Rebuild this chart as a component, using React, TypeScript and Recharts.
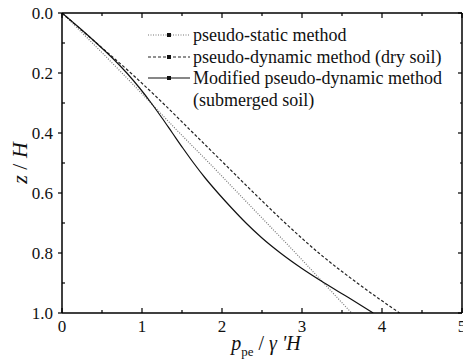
import React from 'react';
import { LineChart, Line, XAxis, YAxis, Legend, Label } from 'recharts';

// depth ratio z/H
const zCoarse = [0, 0.1, 0.2, 0.3, 0.4, 0.5, 0.6, 0.7, 0.8, 0.9, 1.0];
const zFine = [0, 0.05, 0.1, 0.15, 0.2, 0.25, 0.3, 0.35, 0.4, 0.45, 0.5, 0.55, 0.6, 0.65, 0.7, 0.75, 0.8, 0.85, 0.9, 0.95, 1.0];

// ppe / γ'H
const pseudoStatic = [0, 0.38, 0.75, 1.11, 1.47, 1.84, 2.2, 2.56, 2.92, 3.27, 3.62];
const pseudoDynamic = [0, 0.43, 0.86, 1.26, 1.64, 2.02, 2.4, 2.79, 3.21, 3.69, 4.22];
const modifiedSubmerged = [0, 0.22, 0.43, 0.63, 0.81, 0.97, 1.115, 1.25, 1.38, 1.51, 1.645, 1.79, 1.95, 2.12, 2.3, 2.5, 2.73, 2.99, 3.28, 3.59, 3.89];

const xTicks = [0, 0.5, 1, 1.5, 2, 2.5, 3, 3.5, 4, 4.5, 5];
const yTicks = [0, 0.1, 0.2, 0.3, 0.4, 0.5, 0.6, 0.7, 0.8, 0.9, 1.0];

const staticData = zCoarse.map((z, i) => ({ p: pseudoStatic[i], z }));
const dynamicData = zCoarse.map((z, i) => ({ p: pseudoDynamic[i], z }));
const modifiedData = zFine.map((z, i) => ({ p: modifiedSubmerged[i], z }));

const FONT = '"Liberation Serif", "Times New Roman", Times, serif';

const legendItems = [
  { label: 'pseudo-static method', dash: '1 1.5', color: '#777' },
  { label: 'pseudo-dynamic method (dry soil)', dash: '3 2', color: '#222' },
  { label: 'Modified pseudo-dynamic method', dash: undefined, color: '#111' },
];

const isMajor = (v: number, step: number) => Math.abs(v / step - Math.round(v / step)) < 1e-6;

const BottomTick = (props: any) => {
  const { x, y, payload } = props;
  const major = isMajor(payload.value, 1);
  return (
    <g>
      <line x1={x} x2={x} y1={y} y2={y - (major ? 5 : 3)} stroke="#000" strokeWidth={1.2} />
      {major && (
        <text x={x} y={y + 19} textAnchor="middle" fontSize={17} fontFamily={FONT} fill="#111">
          {payload.value}
        </text>
      )}
    </g>
  );
};

const TopTick = (props: any) => {
  const { x, y, payload } = props;
  const major = isMajor(payload.value, 1);
  return <line x1={x} x2={x} y1={y} y2={y + (major ? 5 : 3)} stroke="#000" strokeWidth={1.2} />;
};

const LeftTick = (props: any) => {
  const { x, y, payload } = props;
  const major = isMajor(payload.value, 0.2);
  return (
    <g>
      {major ? (
        <line x1={x} x2={x - 4} y1={y} y2={y} stroke="#000" strokeWidth={1.2} />
      ) : (
        <line x1={x} x2={x + 3} y1={y} y2={y} stroke="#000" strokeWidth={1.2} />
      )}
      {major && (
        <text x={x - 9} y={y} dy="0.35em" textAnchor="end" fontSize={17} fontFamily={FONT} fill="#111">
          {payload.value.toFixed(1)}
        </text>
      )}
    </g>
  );
};

const RightTick = (props: any) => {
  const { x, y, payload } = props;
  const major = isMajor(payload.value, 0.2);
  return <line x1={x} x2={x - (major ? 4 : 2)} y1={y} y2={y} stroke="#000" strokeWidth={1.2} />;
};

const LegendBox = () => (
  <div style={{ fontFamily: FONT, fontSize: 18, color: '#111', lineHeight: '22px' }}>
    {legendItems.map((item) => (
      <div key={item.label} style={{ display: 'flex', alignItems: 'center', height: 21.7 }}>
        <svg width={46} height={10} style={{ marginRight: 1, flexShrink: 0 }}>
          <line x1={2} x2={44} y1={5} y2={5} stroke={item.color} strokeWidth={1.2} strokeDasharray={item.dash} />
          <rect x={21} y={3} width={4} height={4} fill="#111" />
        </svg>
        <span style={{ whiteSpace: 'nowrap' }}>{item.label}</span>
      </div>
    ))}
    <div style={{ paddingLeft: 47, height: 22, whiteSpace: 'nowrap' }}>(submerged soil)</div>
  </div>
);

const XTitle = (props: any) => {
  const { viewBox } = props;
  const cx = viewBox.x + viewBox.width / 2 + 4;
  return (
    <text x={cx} y={350} textAnchor="middle" fontFamily={FONT} fontSize={20} fill="#111">
      <tspan fontStyle="italic">p</tspan>
      <tspan fontSize={13} dy={6}>pe</tspan>
      <tspan dy={-6}> / </tspan>
      <tspan fontStyle="italic">γ </tspan>
      <tspan fontStyle="italic">'H</tspan>
    </text>
  );
};

const YTitle = (props: any) => {
  const { viewBox } = props;
  const cy = viewBox.y + viewBox.height / 2;
  return (
    <text x={27} y={cy} textAnchor="middle" transform={`rotate(-90, 27, ${cy})`} fontFamily={FONT} fontSize={22} fill="#111">
      <tspan fontStyle="italic">z</tspan>
      <tspan> / </tspan>
      <tspan fontStyle="italic">H</tspan>
    </text>
  );
};

export default function App() {
  return (
    <div style={{ position: 'absolute', left: 0, top: 0, background: '#fff' }}>
      <LineChart width={463} height={364} margin={{ top: 0, right: 0, bottom: 0, left: 0 }}>
        <XAxis
          xAxisId="bottom"
          type="number"
          dataKey="p"
          domain={[0, 5]}
          ticks={xTicks}
          interval={0}
          height={51}
          tickSize={0}
          tickMargin={0}
          tickLine={false}
          tick={<BottomTick />}
          axisLine={{ stroke: '#000', strokeWidth: 1.5 }}
          allowDataOverflow
        >
          <Label content={<XTitle />} />
        </XAxis>
        <XAxis
          xAxisId="top"
          orientation="top"
          type="number"
          dataKey="p"
          domain={[0, 5]}
          ticks={xTicks}
          interval={0}
          height={13}
          tickSize={0}
          tickMargin={0}
          tickLine={false}
          tick={<TopTick />}
          axisLine={{ stroke: '#000', strokeWidth: 1.5 }}
          allowDataOverflow
        />
        <YAxis
          yAxisId="left"
          type="number"
          domain={[0, 1]}
          reversed
          ticks={yTicks}
          interval={0}
          width={62}
          tickSize={0}
          tickMargin={0}
          tickLine={false}
          tick={<LeftTick />}
          axisLine={{ stroke: '#000', strokeWidth: 1.5 }}
          allowDataOverflow
        >
          <Label content={<YTitle />} />
        </YAxis>
        <YAxis
          yAxisId="right"
          orientation="right"
          type="number"
          domain={[0, 1]}
          reversed
          ticks={yTicks}
          interval={0}
          width={1}
          tickSize={0}
          tickMargin={0}
          tickLine={false}
          tick={<RightTick />}
          axisLine={{ stroke: '#000', strokeWidth: 1.5 }}
          allowDataOverflow
        />
        <Legend
          layout="vertical"
          align="center"
          verticalAlign="middle"
          content={<LegendBox />}
          wrapperStyle={{ position: 'absolute', left: 146, top: 24, width: 310 }}
        />
        <Line
          xAxisId="bottom"
          yAxisId="left"
          data={staticData}
          dataKey="z"
          name="pseudo-static method"
          stroke="#777"
          strokeWidth={1.2}
          strokeDasharray="1 1.5"
          dot={false}
          type="monotone"
          isAnimationActive={false}
        />
        <Line
          xAxisId="bottom"
          yAxisId="left"
          data={dynamicData}
          dataKey="z"
          name="pseudo-dynamic method (dry soil)"
          stroke="#222"
          strokeWidth={1.2}
          strokeDasharray="3 2"
          dot={false}
          type="monotone"
          isAnimationActive={false}
        />
        <Line
          xAxisId="bottom"
          yAxisId="left"
          data={modifiedData}
          dataKey="z"
          name="Modified pseudo-dynamic method"
          stroke="#111"
          strokeWidth={1.2}
          dot={false}
          type="monotone"
          isAnimationActive={false}
        />
      </LineChart>
    </div>
  );
}
